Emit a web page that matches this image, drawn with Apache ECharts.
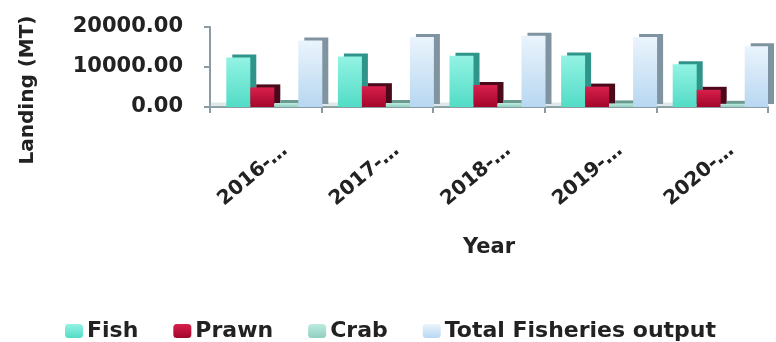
<!DOCTYPE html>
<html>
<head>
<meta charset="utf-8">
<script src="https://cdn.jsdelivr.net/npm/echarts@6/dist/echarts.min.js"></script>
<style>
html,body{margin:0;padding:0;background:#fff;}
#chart{width:776px;height:342px;}
</style>
</head>
<body>
<div id="chart"></div>
<script>
var categories = ['2016-…', '2017-…', '2018-…', '2019-…', '2020-…'];
var fish  = [12400, 12600, 12800, 12900, 10700];
var prawn = [4900, 5200, 5500, 5100, 4300];
var crab  = [1000, 1000, 1000, 900, 800];
var total = [16600, 17500, 17800, 17500, 15200];
var yTicks = [0, 10000, 20000];

var FONT = 'DejaVu Sans';
function grad(a, b) {
  return new echarts.graphic.LinearGradient(0, 0, 0, 1, [{offset: 0, color: a}, {offset: 1, color: b}]);
}
function barSeries(name, data, c1, c2, side) {
  return {
    name: name, type: 'bar', data: data, barWidth: 24, barGap: '0%',
    itemStyle: {
      color: grad(c1, c2),
      shadowColor: side, shadowBlur: 0, shadowOffsetX: 6, shadowOffsetY: -3
    }
  };
}

var chart = echarts.init(document.getElementById('chart'), null, {renderer: 'canvas'});
chart.setOption({
  animation: false,
  backgroundColor: '#ffffff',
  textStyle: {fontFamily: FONT, fontWeight: 'bold', color: '#222'},
  grid: {left: 210, right: 8, top: 27, bottom: 235, containLabel: false},
  legend: {
    data: ['Fish', 'Prawn', 'Crab', 'Total Fisheries output'],
    left: 65, top: 320, padding: 0,
    itemWidth: 18, itemHeight: 14, itemGap: 35,
    textStyle: {fontFamily: FONT, fontWeight: 'bold', fontSize: 22, color: '#222', padding: [0, 0, 0, -1]},
    itemStyle: {shadowBlur: 0, shadowOffsetX: 0, shadowOffsetY: 0, shadowColor: 'transparent'}
  },
  xAxis: {
    type: 'category', data: categories,
    name: 'Year', nameLocation: 'middle', nameGap: 130,
    nameTextStyle: {fontFamily: FONT, fontWeight: 'bold', fontSize: 21, color: '#222'},
    axisLine: {lineStyle: {color: '#8a9ba3', width: 2}},
    axisTick: {show: true, interval: 0, length: 6, lineStyle: {color: '#8a9ba3', width: 2}},
    axisLabel: {
      interval: 0, rotate: 40, margin: 18, fontFamily: FONT, fontWeight: 'bold', fontSize: 20, color: '#222',
      verticalAlign: 'top', padding: [20, 0, 0, 0]
    }
  },
  yAxis: {
    type: 'value', min: yTicks[0], max: yTicks[yTicks.length - 1], interval: yTicks[1] - yTicks[0],
    name: 'Landing (MT)', nameLocation: 'middle', nameGap: 172, nameRotate: 90,
    nameTextStyle: {fontFamily: FONT, fontWeight: 'bold', fontSize: 20, color: '#222', padding: [0, 46, 0, 0]},
    axisLine: {show: true, lineStyle: {color: '#8a9ba3', width: 2}},
    axisTick: {show: true, length: 6, lineStyle: {color: '#8a9ba3', width: 2}},
    splitLine: {show: false},
    axisLabel: {
      margin: 27, fontFamily: FONT, fontWeight: 'bold', fontSize: 21, color: '#222',
      formatter: function (v) { return v.toFixed(2); }
    }
  },
  series: [
    {
      name: '_pad', type: 'bar', data: categories.map(function () { return null; }), barWidth: 17, barGap: '0%',
      silent: true,
      markArea: {
        silent: true,
        itemStyle: {color: 'rgba(160,190,188,0.35)'},
        data: [[{yAxis: 0}, {yAxis: 1100}]]
      }
    },
    barSeries('Fish', fish, '#93f3e3', '#52dcc6', '#2f9489'),
    barSeries('Prawn', prawn, '#d8204c', '#a3062c', '#4a0a1c'),
    barSeries('Crab', crab, '#bdebdf', '#8fcfc0', '#6a9a90'),
    barSeries('Total Fisheries output', total, '#eaf4fc', '#b8d7f1', '#7f93a0')
  ]
});
</script>
</body>
</html>
